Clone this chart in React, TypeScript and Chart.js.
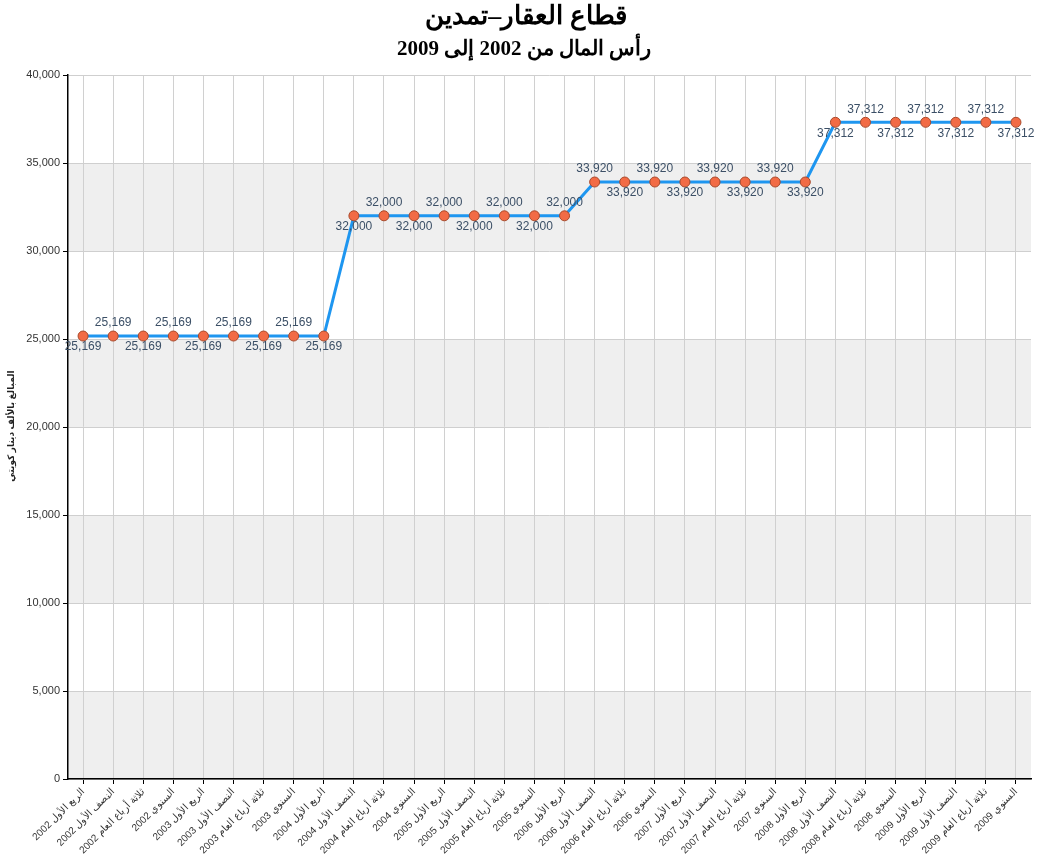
import { useEffect, useRef } from 'react';
import { Chart, registerables } from 'chart.js';

Chart.register(...registerables);

const titleText = 'قطاع العقار–تمدين';
const subtitleText = 'رأس المال من 2002 إلى 2009';
const yAxisTitle = 'المبالغ بالألف دينار كويتي';

const periods = ['الربع الأول', 'النصف الأول', 'ثلاثة أرباع العام', 'السنوي'];
const years = [2002, 2003, 2004, 2005, 2006, 2007, 2008, 2009];
const categories = years.flatMap((y) => periods.map((p) => `${p} ${y}`));

const capitalValues = [
  25169, 25169, 25169, 25169, 25169, 25169, 25169, 25169,
  25169, 32000, 32000, 32000, 32000, 32000, 32000, 32000,
  32000, 33920, 33920, 33920, 33920, 33920, 33920, 33920,
  33920, 37312, 37312, 37312, 37312, 37312, 37312, 37312,
];

// label placement: true = below the point
const labelBelow = [
  true, false, true, false, true, false, true, false,
  true, true, false, true, false, true, false, true,
  false, false, true, false, true, false, true, false,
  true, true, false, true, false, true, false, true,
];

const yMin = 0;
const yMax = 40000;
const yStep = 5000;

const fmt = (v: number) => v.toLocaleString('en-US');

const bandsPlugin = {
  id: 'bands',
  beforeDraw(chart: any) {
    const { ctx, chartArea } = chart;
    const ys = chart.scales.y;
    ctx.save();
    ctx.fillStyle = '#ffffff';
    ctx.fillRect(0, 0, chart.width, chart.height);
    let k = 0;
    for (let v = yMin; v < yMax; v += yStep, k++) {
      if (k % 2 === 0) {
        const top = ys.getPixelForValue(v + yStep);
        const bot = ys.getPixelForValue(v);
        ctx.fillStyle = '#efefef';
        ctx.fillRect(chartArea.left, top, chartArea.right - chartArea.left, bot - top);
      }
    }
    ctx.restore();
  },
};

const textPlugin = {
  id: 'texts',
  afterDraw(chart: any) {
    const { ctx } = chart;
    ctx.save();
    ctx.fillStyle = '#000';
    ctx.textAlign = 'center';
    ctx.textBaseline = 'middle';
    ctx.font = 'bold 26px "Liberation Serif", "DejaVu Serif", serif';
    ctx.fillText(titleText, 526, 17);
    ctx.font = 'bold 21px "Liberation Serif", "DejaVu Serif", serif';
    ctx.fillText(subtitleText, 524, 50);
    ctx.translate(12, 426);
    ctx.rotate(-Math.PI / 2);
    ctx.font = 'bold 9px "Liberation Sans", "DejaVu Sans", sans-serif';
    ctx.fillStyle = '#222';
    ctx.fillText(yAxisTitle, 0, 0);
    ctx.restore();
  },
};

const labelsPlugin = {
  id: 'pointLabels',
  afterDatasetsDraw(chart: any) {
    const { ctx } = chart;
    const meta = chart.getDatasetMeta(0);
    ctx.save();
    ctx.font = '12px "Liberation Sans", Arial, sans-serif';
    ctx.fillStyle = '#3b4f66';
    ctx.textAlign = 'center';
    ctx.textBaseline = 'middle';
    meta.data.forEach((pt: any, i: number) => {
      const v = capitalValues[i];
      const dy = labelBelow[i] ? 11 : -13;
      ctx.fillText(fmt(v), pt.x, pt.y + dy);
    });
    ctx.restore();
  },
};

export default function App() {
  const ref = useRef<HTMLCanvasElement | null>(null);

  useEffect(() => {
    if (!ref.current) return;
    const chart = new Chart(ref.current, {
      type: 'line',
      data: {
        labels: categories,
        datasets: [
          {
            data: capitalValues,
            borderColor: '#1e96f0',
            borderWidth: 3,
            pointRadius: 5,
            pointBackgroundColor: '#f26b45',
            pointBorderColor: '#a94a2c',
            pointBorderWidth: 1,
            tension: 0,
            fill: false,
          },
        ],
      },
      options: {
        animation: false,
        responsive: true,
        maintainAspectRatio: false,
        layout: { padding: { top: 75, right: 7, left: 0, bottom: 0 } },
        plugins: {
          legend: { display: false },
          title: { display: false },
          tooltip: { enabled: false },
        },
        scales: {
          x: {
            type: 'category',
            offset: true,
            grid: {
              offset: false,
              color: '#d0d0d0',
              tickColor: '#000',
              tickLength: 5,
              drawOnChartArea: true,
            },
            border: { color: '#000', width: 1.5 },
            ticks: {
              autoSkip: false,
              maxRotation: 45,
              minRotation: 45,
              color: '#333',
              padding: 2,
              font: { family: '"Liberation Sans", Arial, sans-serif', size: 10 },
            },
            afterFit(scale: any) {
              scale.height = 88;
            },
          },
          y: {
            min: yMin,
            max: yMax,
            ticks: {
              stepSize: yStep,
              color: '#333',
              padding: 3,
              font: { family: '"Liberation Sans", Arial, sans-serif', size: 11 },
              callback: (v: any) => fmt(Number(v)),
            },
            grid: {
              color: '#cfcfcf',
              tickColor: '#000',
              tickLength: 5,
            },
            border: { color: '#000', width: 1.5 },
            afterFit(scale: any) {
              scale.width = 68;
            },
          },
        },
      },
      plugins: [bandsPlugin, textPlugin, labelsPlugin],
    });
    return () => chart.destroy();
  }, []);

  return (
    <div style={{ position: 'fixed', left: 0, top: 0, width: 1038, height: 867 }}>
      <canvas ref={ref} />
    </div>
  );
}
